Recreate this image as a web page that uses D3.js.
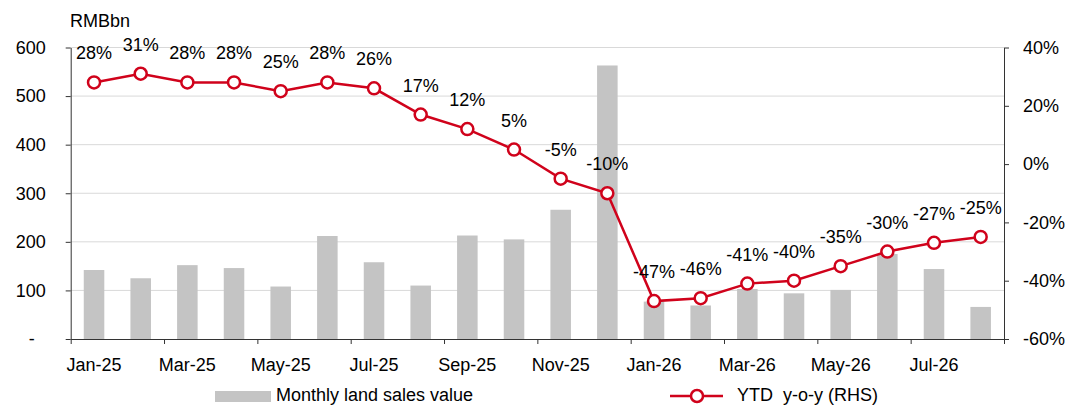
<!DOCTYPE html>
<html>
<head>
<meta charset="utf-8">
<script src="https://cdn.jsdelivr.net/npm/d3@7"></script>
<style>
  body { margin: 0; background: #fff; }
  text { font-family: "Liberation Sans", Arial, sans-serif; fill: #000; }
</style>
</head>
<body>
<script>
// месяцы (категории)
var months = ["Jan-25", "Feb-25", "Mar-25", "Apr-25", "May-25", "Jun-25", "Jul-25", "Aug-25",
              "Sep-25", "Oct-25", "Nov-25", "Dec-25", "Jan-26", "Feb-26", "Mar-26", "Apr-26",
              "May-26", "Jun-26", "Jul-26", "Aug-26"];

// продажи земли за месяц, RMBbn
var landSales = [142, 125, 152, 146, 108, 212, 158, 110, 213, 205, 266, 563,
                 77, 69, 103, 94, 101, 175, 144, 66];

// YTD y-o-y, %
var ytdYoy = [28, 31, 28, 28, 25, 28, 26, 17, 12, 5, -5, -10,
              -47, -46, -41, -40, -35, -30, -27, -25];

// подписи осей
var leftTicks = [0, 100, 200, 300, 400, 500, 600];
var rightTicks = [-60, -40, -20, 0, 20, 40];
var xLabels = ["Jan-25", "Mar-25", "May-25", "Jul-25", "Sep-25", "Nov-25",
               "Jan-26", "Mar-26", "May-26", "Jul-26"];

var W = 1067, H = 408;
var pLeft = 70.7, pRight = 1004, pTop = 47.5, pBottom = 339;  // границы области графика
var red = "#d0021b";

var svg = d3.select("body").append("svg")
    .attr("width", W)
    .attr("height", H);

var x = d3.scaleBand().domain(months).range([pLeft, pRight]).padding(0);
var xi = d3.scaleLinear().domain([0, months.length]).range([pLeft, pRight]);  // границы категорий
var yL = d3.scaleLinear().domain([0, 600]).range([pBottom, pTop]);
var yR = d3.scaleLinear().domain([-60, 40]).range([pBottom, pTop]);

// сетка
svg.append("g")
  .selectAll("line")
  .data(leftTicks.filter(function(d) { return d > 0; }))
  .join("line")
    .attr("x1", pLeft)
    .attr("x2", pRight)
    .attr("y1", function(d) { return yL(d); })
    .attr("y2", function(d) { return yL(d); })
    .style("stroke", "#d9d9d9")
    .style("stroke-width", 1);

// столбцы
var barW = x.bandwidth() * 0.44;
svg.append("g")
  .selectAll("rect")
  .data(landSales)
  .join("rect")
    .attr("x", function(d, i) { return x(months[i]) + (x.bandwidth() - barW) / 2; })
    .attr("y", function(d) { return yL(d); })
    .attr("width", barW)
    .attr("height", function(d) { return yL(0) - yL(d); })
    .style("fill", "#c4c4c4");

// левая ось
var axL = svg.append("g")
    .attr("transform", "translate(" + pLeft + ",0)")
    .call(d3.axisLeft(yL).tickValues(leftTicks).tickSize(5).tickSizeOuter(0).tickPadding(20)
      .tickFormat(function(d) { return d === 0 ? "-" : d; }));
axL.selectAll("text").style("font-size", "18px").style("font-family", null);
axL.selectAll(".tick").filter(function(d) { return d === 0; }).select("text").attr("x", -36);

// правая ось
var axR = svg.append("g")
    .attr("transform", "translate(" + pRight + ",0)")
    .call(d3.axisRight(yR).tickValues(rightTicks).tickSize(5).tickSizeOuter(0).tickPadding(14)
      .tickFormat(function(d) { return d + "%"; }));
axR.selectAll("text").style("font-size", "18px").style("font-family", null);

// нижняя ось: засечки на границах
var axB = svg.append("g")
    .attr("transform", "translate(0," + pBottom + ")")
    .call(d3.axisBottom(xi).tickValues(d3.range(0, months.length + 1, 2)).tickSize(5)
      .tickSizeOuter(0).tickFormat(""));

// подписи месяцев
svg.append("g")
  .selectAll("text")
  .data(xLabels)
  .join("text")
    .attr("x", function(d) { return x(d) + x.bandwidth() / 2; })
    .attr("y", 371)
    .attr("text-anchor", "middle")
    .style("font-size", "18px")
    .text(function(d) { return d; });

[axL, axR, axB].forEach(function(a) {
  a.selectAll("path, line").style("stroke", "#333");
});

// линия YTD
var line = d3.line()
    .x(function(d, i) { return x(months[i]) + x.bandwidth() / 2; })
    .y(function(d) { return yR(d); });

svg.append("path")
    .datum(ytdYoy)
    .attr("d", line)
    .style("fill", "none")
    .style("stroke", red)
    .style("stroke-width", 2.5);

svg.append("g")
  .selectAll("circle")
  .data(ytdYoy)
  .join("circle")
    .attr("cx", function(d, i) { return x(months[i]) + x.bandwidth() / 2; })
    .attr("cy", function(d) { return yR(d); })
    .attr("r", 6)
    .style("fill", "#fff")
    .style("stroke", red)
    .style("stroke-width", 2.5);

// подписи значений
svg.append("g")
  .selectAll("text")
  .data(ytdYoy)
  .join("text")
    .attr("x", function(d, i) { return x(months[i]) + x.bandwidth() / 2; })
    .attr("y", function(d) { return yR(d) - 23; })
    .attr("text-anchor", "middle")
    .style("font-size", "18px")
    .text(function(d) { return d + "%"; });

// единицы
svg.append("text")
    .attr("x", 70)
    .attr("y", 27)
    .style("font-size", "18px")
    .text("RMBbn");

// легенда
svg.append("rect")
    .attr("x", 215)
    .attr("y", 391)
    .attr("width", 56)
    .attr("height", 11)
    .style("fill", "#c4c4c4");

svg.append("text")
    .attr("x", 276)
    .attr("y", 401)
    .style("font-size", "18px")
    .text("Monthly land sales value");

svg.append("line")
    .attr("x1", 670)
    .attr("x2", 723)
    .attr("y1", 396)
    .attr("y2", 396)
    .style("stroke", red)
    .style("stroke-width", 2.5);

svg.append("circle")
    .attr("cx", 697)
    .attr("cy", 396)
    .attr("r", 6)
    .style("fill", "#fff")
    .style("stroke", red)
    .style("stroke-width", 2.5);

svg.append("text")
    .attr("x", 737)
    .attr("y", 401)
    .style("font-size", "18px")
    .style("white-space", "pre")
    .text("YTD  y-o-y (RHS)");
</script>
</body>
</html>
